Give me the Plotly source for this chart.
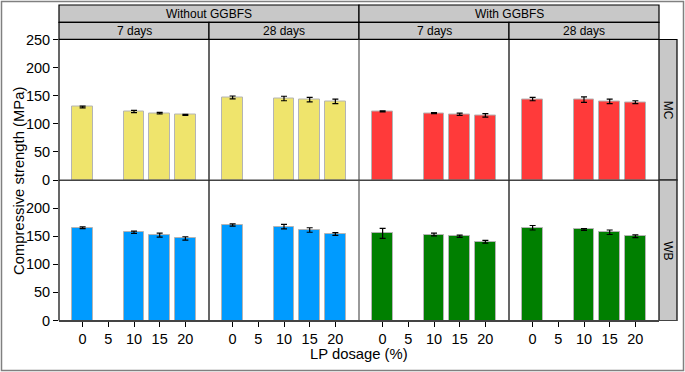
import plotly.graph_objects as go

W, H = 685, 372

lp_dosage = [0, 10, 15, 20]
x_ticks = [0, 5, 10, 15, 20]
y_ticks_top = [0, 50, 100, 150, 200, 250]
y_ticks_bottom = [0, 50, 100, 150, 200]

groups = ["Without GGBFS", "With GGBFS"]
ages = ["7 days", "28 days"]
curings = ["MC", "WB"]

mc_wo_7 = [130, 122, 119, 116]
mc_wo_7_err = [1.5, 2, 1.5, 1]
mc_wo_28 = [147, 145, 143, 140]
mc_wo_28_err = [2.5, 4, 4, 4]
mc_w_7 = [122, 119, 117, 115]
mc_w_7_err = [1, 1, 2, 3]
mc_w_28 = [144, 143, 140, 138.5]
mc_w_28_err = [3, 5, 4, 2.5]
wb_wo_7 = [165, 157, 152, 146]
wb_wo_7_err = [1.5, 2, 3.5, 3]
wb_wo_28 = [170, 167, 161, 154]
wb_wo_28_err = [2, 4, 4, 2.5]
wb_w_7 = [155, 153, 150, 140]
wb_w_7_err = [9, 2.5, 2, 2.5]
wb_w_28 = [165, 162, 157, 150]
wb_w_28_err = [4, 1.5, 4, 2.5]

colors = {("MC", 0): "#EFE46C", ("MC", 1): "#FF3A3A",
          ("WB", 0): "#009BFF", ("WB", 1): "#007F00"}

panels = [
    [(mc_wo_7, mc_wo_7_err), (mc_wo_28, mc_wo_28_err), (mc_w_7, mc_w_7_err), (mc_w_28, mc_w_28_err)],
    [(wb_wo_7, wb_wo_7_err), (wb_wo_28, wb_wo_28_err), (wb_w_7, wb_w_7_err), (wb_w_28, wb_w_28_err)],
]

def px(x):
    return x / W

def py(y):
    return 1 - y / H

col_px = [(59, 209), (209, 359), (359, 509), (509, 659)]
row_px = [(39.5, 180), (180, 320.5)]

FONT = "Liberation Sans, Arial, sans-serif"
fig = go.Figure()
layout = dict(width=W, height=H, autosize=False, margin=dict(l=0, r=0, t=0, b=0, pad=0),
              paper_bgcolor="white", plot_bgcolor="white", showlegend=False,
              font=dict(family=FONT, color="black", size=14), bargap=0)

shapes = []
annotations = []
for r in range(2):
    for c in range(4):
        i = r * 4 + c + 1
        vals, errs = panels[r][c]
        xa = "x" if i == 1 else f"x{i}"
        ya = "y" if i == 1 else f"y{i}"
        fig.add_trace(go.Bar(
            x=lp_dosage, y=vals, width=4, xaxis=xa, yaxis=ya,
            marker=dict(color=colors[(curings[r], c // 2)], line=dict(color="#b4b4b4", width=1)),
            error_y=dict(type="data", array=errs, visible=True, color="black", thickness=1.2, width=3),
        ))
        xkey = "xaxis" if i == 1 else f"xaxis{i}"
        ykey = "yaxis" if i == 1 else f"yaxis{i}"
        x0, x1 = col_px[c]
        y0, y1 = row_px[r]
        layout[xkey] = dict(domain=[px(x0), px(x1)], range=[-4.6, 24.6], anchor=ya,
                            showgrid=False, zeroline=False, showline=True, linecolor="#444", linewidth=1.2,
                            tickmode="array", tickvals=x_ticks, automargin=False,
                            ticks="outside" if r == 1 else "", ticklen=5, tickcolor="black",
                            showticklabels=(r == 1), tickfont=dict(size=14.5))
        layout[ykey] = dict(domain=[py(y1), py(y0)], range=[0, 250], anchor=xa,
                            showgrid=False, zeroline=False, showline=False, automargin=False,
                            tickmode="array", tickvals=(y_ticks_top if r == 0 else y_ticks_bottom),
                            ticks="outside" if c == 0 else "", ticklen=5, tickcolor="black",
                            showticklabels=(c == 0), tickfont=dict(size=14.5))

# strips
def strip(x0, y0, x1, y1):
    shapes.append(dict(type="rect", xref="paper", yref="paper", x0=px(x0), x1=px(x1),
                       y0=py(y1), y1=py(y0), fillcolor="#C8C8C8", line=dict(color="black", width=1.2)))

for g in range(2):
    x0 = 59 + g * 300
    strip(x0, 5, x0 + 300, 22.3)
    annotations.append(dict(text=groups[g], xref="paper", yref="paper", x=px(x0 + 150), y=py(13.6),
                            showarrow=False, font=dict(size=12), xanchor="center", yanchor="middle"))
for c in range(4):
    x0, x1 = col_px[c]
    strip(x0, 22.3, x1, 39.3)
    annotations.append(dict(text=ages[c % 2], xref="paper", yref="paper", x=px((x0 + x1) / 2), y=py(30.8),
                            showarrow=False, font=dict(size=12), xanchor="center", yanchor="middle"))
for r in range(2):
    y0, y1 = row_px[r]
    strip(659, y0, 677, y1)
    annotations.append(dict(text=curings[r], xref="paper", yref="paper", x=px(668), y=py((y0 + y1) / 2),
                            showarrow=False, textangle=90, font=dict(size=12),
                            xanchor="center", yanchor="middle"))

# panel vertical borders
for xv, col in [(59, "black"), (209, "black"), (359, "#555"), (509, "black")]:
    shapes.append(dict(type="line", xref="paper", yref="paper", x0=px(xv), x1=px(xv),
                       y0=py(320.5), y1=py(39.5), line=dict(color=col, width=1.2)))

# baseline lines continuing under the right strips
for yv in [180, 320.5]:
    shapes.append(dict(type="line", xref="paper", yref="paper", x0=px(59), x1=px(677),
                       y0=py(yv), y1=py(yv), line=dict(color="#444", width=1.2)))

# axis titles
annotations.append(dict(text="Compressive strength (MPa)", xref="paper", yref="paper", x=px(19), y=py(181),
                        showarrow=False, textangle=-90, font=dict(size=14.8), xanchor="center", yanchor="middle"))
annotations.append(dict(text="LP dosage (%)", xref="paper", yref="paper", x=px(359), y=py(354),
                        showarrow=False, font=dict(size=14.8), xanchor="center", yanchor="middle"))

# outer border
shapes.append(dict(type="rect", xref="paper", yref="paper", x0=px(1.5), x1=px(683.5), y0=py(370.5), y1=py(1.5),
                   line=dict(color="#808080", width=1.5), fillcolor="rgba(0,0,0,0)"))

layout["shapes"] = shapes
layout["annotations"] = annotations
fig.update_layout(**layout)
fig.write_html("out.html", config={"displayModeBar": False},
               post_script="document.body.style.margin='0';document.body.style.overflow='hidden';")
